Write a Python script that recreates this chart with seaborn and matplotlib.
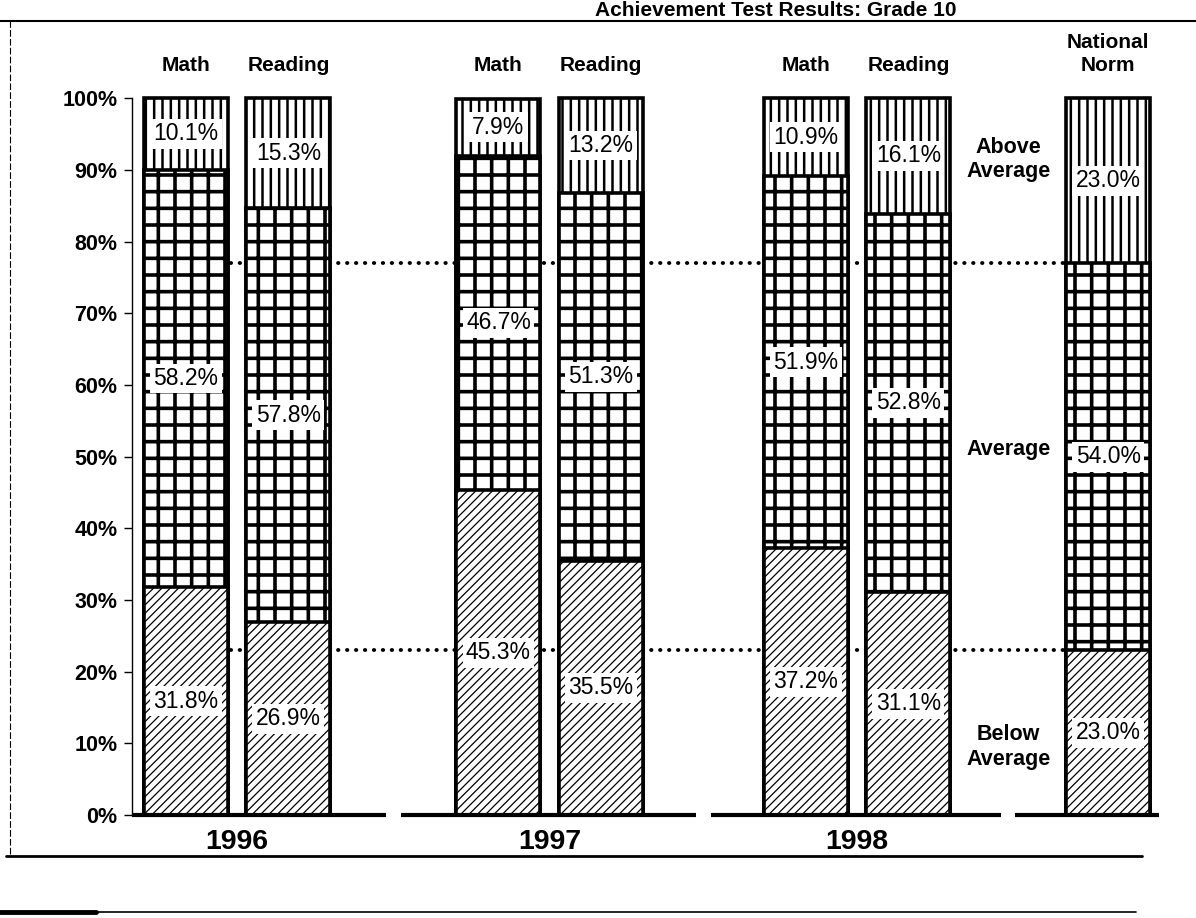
import numpy as np
import pandas as pd
import matplotlib
matplotlib.use('Agg')
import matplotlib.pyplot as plt
import seaborn as sns
from matplotlib.lines import Line2D

# values
headers = ['Math', 'Reading', 'Math', 'Reading', 'Math', 'Reading', 'National\nNorm']
groups = ['1996', '1996', '1997', '1997', '1998', '1998', 'Norm']
below = [31.8, 26.9, 45.3, 35.5, 37.2, 31.1, 23.0]
average = [58.2, 57.8, 46.7, 51.3, 51.9, 52.8, 54.0]
above = [10.1, 15.3, 7.9, 13.2, 10.9, 16.1, 23.0]
xpos = [0, 1, 3.05, 4.05, 6.05, 7.05, 9.0]
year_labels = ['1996', '1997', '1998']
band_labels = ['Above\nAverage', 'Average', 'Below\nAverage']

df = pd.DataFrame({'pos': xpos, 'below': below, 'average': average, 'above': above})
df['mid'] = df['below'] + df['average']
df['top'] = df['mid'] + df['above']

sns.set_theme(style='white')
plt.rcParams['font.family'] = ['Liberation Sans', 'DejaVu Sans']
plt.rcParams['hatch.linewidth'] = 2.0
for k in ['text.color', 'axes.labelcolor', 'xtick.color', 'ytick.color', 'axes.edgecolor']:
    plt.rcParams[k] = 'black'

fig = plt.figure(figsize=(11.96, 9.18), dpi=100)
ax = fig.add_axes([0.110, 0.112, 0.868, 0.781])

# stacked bars drawn as overlapping cumulative layers
layers = [('top', '||', 1.8), ('mid', '+', 2.6), ('below', '////', 0.9)]
for col, hatch, hlw in layers:
    n0 = len(ax.patches)
    sns.barplot(data=df, x='pos', y=col, native_scale=True, color='white',
                saturation=1, width=0.82, errorbar=None, edgecolor='black',
                linewidth=2.6, ax=ax, zorder=3)
    for p in ax.patches[n0:]:
        p.set_hatch(hatch)
        p.set_clip_on(False)
        if hasattr(p, 'set_hatch_linewidth'):
            p.set_hatch_linewidth(hlw)

# dotted guide lines at the national norm cut points
for lvl in [df['below'].iloc[-1], df['mid'].iloc[-1]]:
    ax.plot([xpos[0], xpos[-1]], [lvl, lvl], ls=(0, (0.1, 2.2)), lw=2.8,
            color='black', dash_capstyle='round', zorder=1)

# value labels
for i, r in df.iterrows():
    segs = [(r['below'] / 2, r['below']),
            (r['below'] + r['average'] / 2, r['average']),
            (r['mid'] + r['above'] / 2, r['above'])]
    for yc, v in segs:
        ax.text(r['pos'], yc, f'{v:.1f}%', ha='center', va='center', fontsize=16.5,
                zorder=5, bbox=dict(boxstyle='square,pad=0.15', fc='white', ec='none'))
    ax.text(r['pos'], 103.3, headers[i], ha='center', va='bottom', fontsize=15,
            weight='bold', linespacing=1.25, clip_on=False)

# band labels between the last group and the norm
bx = (xpos[-2] + xpos[-1]) / 2
for lab, yy in zip(band_labels, [91.5, 51, 9.5]):
    ax.text(bx, yy, lab, ha='center', va='center', fontsize=15.5, weight='bold',
            linespacing=1.2)

# broken baseline and year labels
xl = (-0.53, 9.6)
ends = [max(p for p, g in zip(xpos, groups) if g == y) for y in year_labels]
starts = [min(p for p, g in zip(xpos, groups) if g == y) for y in year_labels[1:]] + [xpos[-1]]
cuts = [(e + s) / 2 for e, s in zip(ends, starts)]
edges = [xl[0]] + [c for c in cuts for _ in (0, 1)] + [xpos[-1] + 0.5]
for k in range(0, len(edges), 2):
    a, b = edges[k], edges[k + 1]
    a = a + 0.07 if k > 0 else a
    b = b - 0.07 if k + 1 < len(edges) - 1 else b
    ax.plot([a, b], [0, 0], color='black', lw=3, clip_on=False, zorder=4,
            solid_capstyle='butt')
for y in year_labels:
    xs = [p for p, g in zip(xpos, groups) if g == y]
    ax.text(np.mean(xs), -3.8, y, ha='center', va='center', fontsize=20.5,
            weight='bold', clip_on=False)

ax.set_xlim(*xl)
ax.set_ylim(0, 100)
ax.set_xticks([])
ax.set_xlabel('')
ax.set_ylabel('')
ax.set_yticks(range(0, 101, 10))
ax.set_yticklabels([f'{t}%' for t in range(0, 101, 10)])
ax.tick_params(axis='y', left=True, direction='out', length=6, width=1,
               labelsize=15.5, pad=4, colors='black')
for t in ax.get_yticklabels():
    t.set_fontweight('bold')
for s in ['top', 'right', 'bottom']:
    ax.spines[s].set_visible(False)
ax.spines['left'].set_linewidth(1.0)

# page frame and title strip from the scan
fig.text(0.80, 0.999, 'Achievement Test Results: Grade 10', ha='right', va='top',
         fontsize=15, weight='bold')
fig.add_artist(Line2D([0, 1], [0.977, 0.977], color='black', lw=1.5))
fig.add_artist(Line2D([0.008, 0.008], [0.07, 0.977], color='black', lw=0.8, ls=(0, (6, 2))))
fig.add_artist(Line2D([0.005, 0.955], [0.068, 0.068], color='black', lw=2))
fig.add_artist(Line2D([0, 0.08], [0.006, 0.006], color='black', lw=3.5))
fig.add_artist(Line2D([0.08, 0.95], [0.006, 0.006], color='black', lw=1.2))

fig.savefig('out.png', dpi=100)
